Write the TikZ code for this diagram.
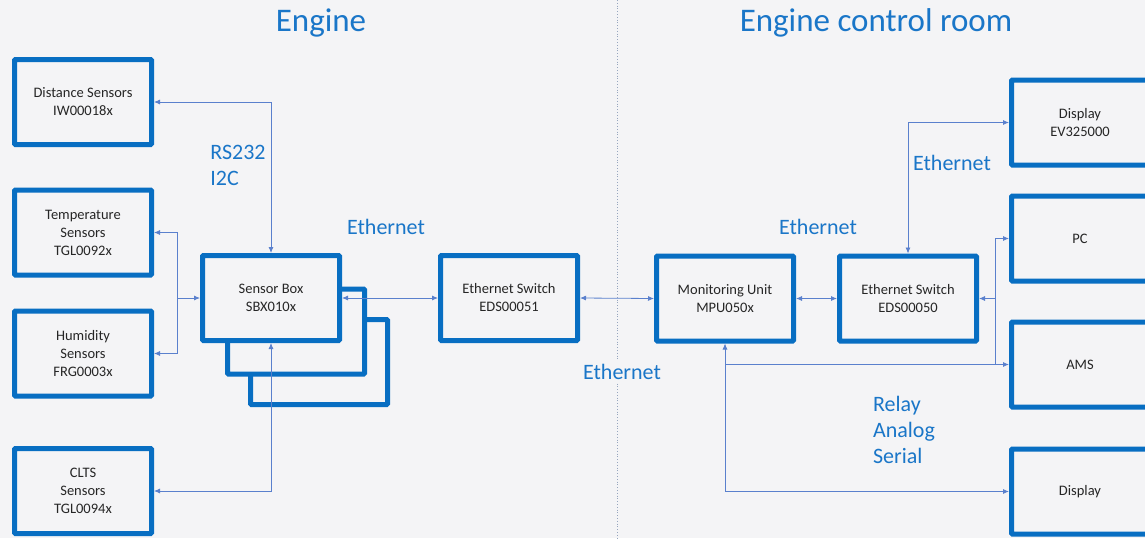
\documentclass[tikz,border=0pt]{standalone}
\usepackage{fontspec}
\setmainfont{Carlito}
\usetikzlibrary{arrows.meta}
\definecolor{bgcol}{RGB}{244,244,246}
\definecolor{boxblue}{RGB}{8,110,194}
\definecolor{linkblue}{RGB}{90,128,205}
\definecolor{lblblue}{RGB}{26,118,200}
\definecolor{divcol}{RGB}{150,165,190}
\tikzset{
  unit/.style={draw=boxblue, line width=5pt, rounded corners=1pt, fill=bgcol,
    minimum width=137pt, minimum height=85pt, align=center,
    text=black!85, font=\fontsize{14.5}{18}\selectfont},
  link/.style={draw=linkblue, line width=0.8pt,
    {Latex[length=6pt,width=5pt]}-{Latex[length=6pt,width=5pt]}},
  lbl/.style={text=lblblue, align=left, font=\fontsize{22}{26}\selectfont},
  heading/.style={text=lblblue, font=\fontsize{33}{38}\selectfont}
}
\begin{document}
\begin{tikzpicture}[x=1pt,y=-1pt]
  \useasboundingbox (0,0) rectangle (1145,538);
  \clip (0,0) rectangle (1145,538);
  \fill[bgcol] (0,0) rectangle (1145,538);
  % dividing line
  \draw[divcol, dotted, line width=0.8pt] (617,0) -- (617,538);
  \node[heading] (engine) at (321,23) {Engine};
  \node[heading] (ecr) at (876,23) {Engine control room};
  % sensors
  \node[unit] (dist) at (83,102) {Distance Sensors\\IW00018x};
  \node[unit] (temp) at (83,232.5) {Temperature\\Sensors\\TGL0092x};
  \node[unit] (hum) at (83,353.5) {Humidity\\Sensors\\FRG0003x};
  \node[unit] (clts) at (83,491) {CLTS\\Sensors\\TGL0094x};
  % sensor boxes, stacked
  \node[unit] (sbox3) at (319,362) {};
  \node[unit] (sbox2) at (296,331.5) {};
  \node[unit] (sbox) at (271,298) {Sensor Box\\SBX010x};
  \node[unit] (sw1) at (509,298) {Ethernet Switch\\EDS00051};
  % control room
  \node[unit] (mu) at (725,298.5) {Monitoring Unit\\MPU050x};
  \node[unit] (sw2) at (908,298.5) {Ethernet Switch\\EDS00050};
  \node[unit] (disp1) at (1080,122.5) {Display\\EV325000};
  \node[unit] (pc) at (1080,238.5) {PC};
  \node[unit] (ams) at (1080,364.5) {AMS};
  \node[unit] (disp2) at (1080,491.5) {Display};
  % connectors
  \coordinate (tj) at (177,298);
  \coordinate (rj) at (995,298.5);
  \draw[link] (dist.east) -| (sbox.north);
  \draw[link] (temp.east) -| (tj) -- (sbox.west);
  \draw[link, {Latex[length=6pt,width=5pt]}-] (hum.east) -| (tj);
  \draw[link] (clts.east) -| (sbox.south);
  \draw[link] (sbox.east) -- (sw1.west);
  \draw[link] (sw1.east) -- (mu.west);
  \draw[link] (mu.east) -- (sw2.west);
  \draw[link] (sw2.north) |- (disp1.west);
  \draw[link] (sw2.east) -- (rj) |- (pc.west);
  \draw[link, -] (rj) -- (rj |- ams.west);
  \draw[link] (mu.south) |- (ams.west);
  \draw[link, -{Latex[length=6pt,width=5pt]}] (mu.south |- ams.west) |- (disp2.west);
  % labels
  \node[lbl] (bus) at (238,165) {RS232\\I2C};
  \node[lbl] (eth1) at (386,227) {Ethernet};
  \node[lbl, fill=bgcol] (eth2) at (622,372) {Ethernet};
  \node[lbl] (eth3) at (818,227) {Ethernet};
  \node[lbl] (eth4) at (952,163) {Ethernet};
  \node[lbl] (sig) at (904,430) {Relay\\Analog\\Serial};
\end{tikzpicture}
\end{document}
